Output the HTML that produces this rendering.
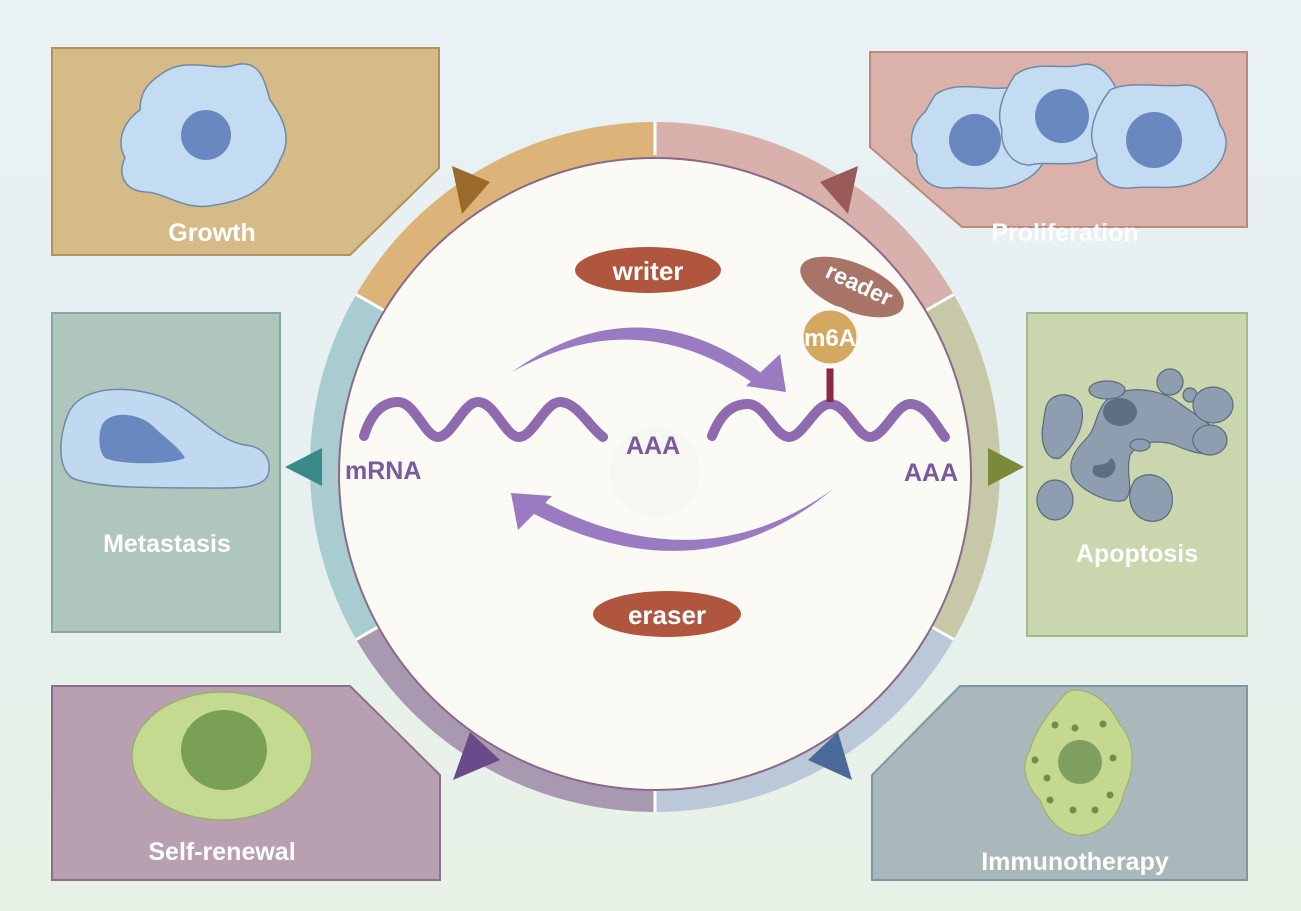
<!DOCTYPE html>
<html><head><meta charset="utf-8"><style>
html,body{margin:0;padding:0;width:1301px;height:911px;overflow:hidden;}
svg{display:block;}
text{font-family:"Liberation Sans",sans-serif;font-weight:bold;}
</style></head><body>
<svg width="1301" height="911" viewBox="0 0 1301 911" xmlns="http://www.w3.org/2000/svg">
<defs>
<linearGradient id="bg" x1="0" y1="0" x2="0" y2="1">
<stop offset="0" stop-color="#e9f1f5"/><stop offset="0.5" stop-color="#e6f0f0"/><stop offset="1" stop-color="#e8f2e6"/>
</linearGradient>
</defs>
<rect width="1301" height="911" fill="url(#bg)"/>

<!-- boxes -->
<polygon points="52,48 439,48 439,168 350,255 52,255" fill="#d4bb88" stroke="#b0925a" stroke-width="2"/>
<polygon points="870,52 1247,52 1247,227 962,227 870,147" fill="#dbb2aa" stroke="#b88a80" stroke-width="2"/>
<rect x="52" y="313" width="228" height="319" fill="#afc6bd" stroke="#86a8a0" stroke-width="2"/>
<rect x="1027" y="313" width="220" height="323" fill="#cad6ad" stroke="#a6b88a" stroke-width="2"/>
<polygon points="52,686 350,686 440,775 440,880 52,880" fill="#b8a0b0" stroke="#8e6e8e" stroke-width="2"/>
<polygon points="960,686 1247,686 1247,880 872,880 872,775" fill="#a9b8bb" stroke="#7e96a6" stroke-width="2"/>

<!-- Growth cell -->
<path d="M160,75 C185,55 215,72 235,65 C262,58 265,85 270,100 C285,120 292,140 280,160 C270,185 250,200 215,205 C185,212 165,192 145,192 C122,190 118,172 125,158 C115,140 125,120 140,110 C140,95 145,85 160,75 Z" fill="#c4dcf2" stroke="#6e8aa6" stroke-width="1.5"/>
<circle cx="206" cy="135" r="25" fill="#6a88c0"/>

<!-- Proliferation cells -->
<g stroke="#6e8aa6" stroke-width="1.5" fill="#c4dcf2">
<path d="M935,95 C955,80 985,90 1005,88 C1030,85 1040,110 1045,125 C1055,145 1045,170 1025,180 C1000,195 970,185 950,188 C925,190 915,170 917,155 C905,140 915,120 925,112 Z"/>
<path d="M1015,75 C1035,60 1060,70 1080,65 C1100,60 1115,80 1120,100 C1130,120 1118,145 1100,155 C1075,170 1050,160 1030,165 C1010,165 1000,145 1002,130 C995,110 1005,90 1015,75 Z"/>
<path d="M1110,90 C1130,80 1160,88 1185,85 C1210,85 1215,110 1220,125 C1235,145 1220,170 1200,180 C1180,192 1150,185 1130,188 C1105,190 1095,170 1097,155 C1085,135 1095,110 1110,90 Z"/>
</g>
<circle cx="975" cy="140" r="26" fill="#6a88c0"/>
<circle cx="1062" cy="116" r="27" fill="#6a88c0"/>
<circle cx="1154" cy="140" r="28" fill="#6a88c0"/>

<!-- Metastasis cell -->
<path d="M70,410 C85,385 130,385 165,398 C195,410 215,440 245,445 C265,447 272,460 268,475 C262,490 230,488 200,488 C150,488 95,488 72,478 C55,465 60,430 70,410 Z" fill="#c0d8f0" stroke="#6e8aa6" stroke-width="1.5"/>
<path d="M102,425 C110,410 140,412 155,428 C165,438 180,448 185,458 C170,465 120,465 105,458 C98,450 98,435 102,425 Z" fill="#6a88c0"/>

<!-- Apoptosis -->
<g fill="#8e9eb0" stroke="#5a6a7a" stroke-width="1.2">
<path d="M1100,410 C1110,385 1150,385 1175,400 C1195,415 1215,425 1222,440 C1225,460 1195,455 1175,445 C1160,440 1140,440 1130,455 C1125,475 1135,490 1125,500 C1110,505 1085,492 1075,480 C1065,465 1075,450 1085,440 C1095,430 1095,420 1100,410 Z"/>
<path d="M1050,400 C1060,390 1080,395 1082,410 C1085,430 1070,450 1060,458 C1045,462 1040,440 1043,425 C1045,412 1045,405 1050,400 Z"/>
<ellipse cx="1107" cy="390" rx="18" ry="9"/>
<circle cx="1170" cy="382" r="13"/>
<circle cx="1190" cy="395" r="7"/>
<ellipse cx="1213" cy="405" rx="20" ry="18"/>
<ellipse cx="1210" cy="440" rx="17" ry="15"/>
<ellipse cx="1055" cy="500" rx="18" ry="20"/>
<path d="M1135,480 C1150,468 1170,478 1172,495 C1175,515 1160,525 1145,520 C1130,515 1125,495 1135,480 Z"/>
<ellipse cx="1140" cy="445" rx="10" ry="6"/>
</g>
<ellipse cx="1120" cy="412" rx="17" ry="14" fill="#5e6e82"/>
<path d="M1110,458 C1118,460 1118,475 1105,478 C1092,478 1090,470 1095,465 C1105,465 1110,462 1110,458Z" fill="#5e6e82"/>

<!-- Self-renewal -->
<ellipse cx="222" cy="756" rx="90" ry="64" fill="#c4da90" stroke="#9ab070" stroke-width="1.5"/>
<ellipse cx="224" cy="750" rx="43" ry="40" fill="#7aa055"/>

<!-- Immunotherapy -->
<path d="M1075,690 C1095,690 1110,705 1120,725 C1135,740 1135,770 1125,790 C1120,810 1110,830 1085,835 C1060,838 1045,815 1040,800 C1025,785 1020,765 1030,750 C1035,730 1050,712 1060,700 C1065,693 1070,690 1075,690 Z" fill="#c4d890" stroke="#a0b070" stroke-width="1.2"/>
<circle cx="1080" cy="762" r="22" fill="#80a060"/>
<g fill="#6e8e50">
<circle cx="1055" cy="725" r="3.5"/><circle cx="1075" cy="728" r="3.5"/><circle cx="1103" cy="724" r="3.5"/>
<circle cx="1035" cy="760" r="3.5"/><circle cx="1113" cy="758" r="3.5"/><circle cx="1047" cy="778" r="3.5"/>
<circle cx="1050" cy="800" r="3.5"/><circle cx="1110" cy="795" r="3.5"/><circle cx="1073" cy="810" r="3.5"/><circle cx="1095" cy="810" r="3.5"/>
</g>

<!-- box labels -->
<g fill="#ffffff" font-size="25" text-anchor="middle">
<text x="212" y="241">Growth</text>
<text x="1065" y="241">Proliferation</text>
<text x="167" y="552">Metastasis</text>
<text x="1137" y="562">Apoptosis</text>
<text x="222" y="860">Self-renewal</text>
<text x="1075" y="870">Immunotherapy</text>
</g>

<!-- ring -->
<path d="M655,467 L655,122 A345,345 0 0 0 356.2,294.5 Z" fill="#dcb47a"/>
<path d="M655,467 L953.8,294.5 A345,345 0 0 0 655,122 Z" fill="#d8b0ac"/>
<path d="M655,467 L953.8,639.5 A345,345 0 0 0 953.8,294.5 Z" fill="#c6c8a8"/>
<path d="M655,467 L655,812 A345,345 0 0 0 953.8,639.5 Z" fill="#bac8d8"/>
<path d="M655,467 L356.2,639.5 A345,345 0 0 0 655,812 Z" fill="#a898b0"/>
<path d="M655,467 L356.2,294.5 A345,345 0 0 0 356.2,639.5 Z" fill="#a8ccd0"/>
<g stroke="#ffffff" stroke-width="3">
<line x1="655" y1="122" x2="655" y2="155"/><line x1="953.8" y1="294.5" x2="925" y2="311"/>
<line x1="953.8" y1="639.5" x2="925" y2="623"/><line x1="655" y1="812" x2="655" y2="780"/>
<line x1="356.2" y1="639.5" x2="385" y2="623"/><line x1="356.2" y1="294.5" x2="385" y2="311"/>
</g>
<!-- triangles -->
<polygon points="452,166 490,182 462,214" fill="#9a6a2a"/>
<polygon points="858,166 820,182 848,214" fill="#9a5a58"/>
<polygon points="285,467 322,448 322,486" fill="#3a8a8a"/>
<polygon points="1024,467 988,448 988,486" fill="#7a8a3a"/>
<polygon points="453,780 470,732 500,760" fill="#6a4a8a"/>
<polygon points="852,780 838,732 808,760" fill="#4a6a9a"/>

<circle cx="655" cy="474" r="316" fill="#fbfaf5" stroke="#8a6a86" stroke-width="2"/>
<circle cx="655" cy="472" r="45" fill="#f6f6f2"/>

<!-- waves -->
<g fill="none" stroke="#8e6aae" stroke-width="10" stroke-linecap="round">
<path d="M364,436 C372,410 385,402 398,402 C415,402 425,437 438,437 C452,437 463,402 478,402 C495,402 505,437 519,437 C533,437 545,402 560,402 C577,402 590,428 603,437"/>
<path d="M712,436 C722,410 735,404 748,404 C765,404 775,437 789,437 C803,437 815,404 830,404 C847,404 857,437 870,437 C884,437 896,404 910,404 C927,404 937,428 945,437"/>
</g>
<line x1="830" y1="362" x2="830" y2="402" stroke="#8a2a40" stroke-width="7"/>

<!-- arrows -->
<path d="M512,372 Q640,280 768,378 L760,388 Q640,300 512,372 Z" fill="#9a7ac0"/>
<polygon points="786,392 780,354 746,386" fill="#9a7ac0"/>
<path d="M833,489 Q700,600 530,512 L540,500 Q700,585 833,489 Z" fill="#9a7ac0"/>
<polygon points="511,493 552,496 518,530" fill="#9a7ac0"/>

<!-- writer / eraser -->
<ellipse cx="648" cy="270" rx="73" ry="23" fill="#b0553e"/>
<text x="648" y="280" font-size="26" fill="#ffffff" text-anchor="middle">writer</text>
<ellipse cx="667" cy="614" rx="74" ry="23" fill="#b0553e"/>
<text x="667" y="624" font-size="26" fill="#ffffff" text-anchor="middle">eraser</text>

<!-- reader / m6A -->
<ellipse cx="852" cy="287" rx="55" ry="24" fill="#a87468" transform="rotate(22 852 287)"/>
<text x="858" y="292" font-size="23" fill="#ffffff" text-anchor="middle" transform="rotate(25 858 287)">reader</text>
<circle cx="830" cy="337" r="29" fill="#d4a860" stroke="#fbfaf5" stroke-width="5"/>
<text x="830" y="346" font-size="24" fill="#ffffff" text-anchor="middle">m6A</text>

<!-- mRNA labels -->
<g fill="#7a5a9e" font-size="25">
<text x="345" y="479">mRNA</text>
<text x="626" y="454">AAA</text>
<text x="904" y="481">AAA</text>
</g>
</svg>
</body></html>
